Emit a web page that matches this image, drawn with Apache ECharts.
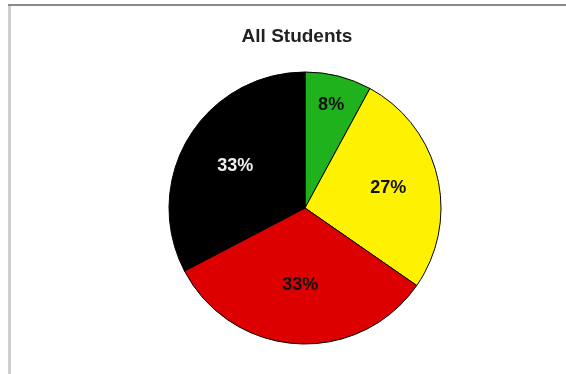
<!DOCTYPE html>
<html>
<head>
<meta charset="utf-8">
<style>
  html, body { margin: 0; padding: 0; background: #ffffff; }
  #chart { width: 566px; height: 374px; }
</style>
<script src="https://cdn.jsdelivr.net/npm/echarts@6/dist/echarts.min.js"></script>
</head>
<body>
<div id="chart"></div>
<script>
// Share of all students by group (percent)
const categories = ['Green', 'Yellow', 'Red', 'Black'];
const values = [8, 27, 33, 33];
const colors = ['#1fb21c', '#fff200', '#dc0000', '#000000'];
const labelColors = ['#111111', '#111111', '#111111', '#eeeeee'];

const pieCenter = [305, 208];
const pieRadius = 136;
// How far out each value label sits, as a fraction of the radius
const labelReach = [0.78, 0.63, 0.57, 0.6];

const slices = categories.map((name, i) => ({
  name: name,
  value: values[i],
  itemStyle: { color: colors[i] },
  label: { color: labelColors[i] }
}));

const chart = echarts.init(document.getElementById('chart'), null, { renderer: 'canvas' });
chart.setOption({
  animation: false,
  backgroundColor: '#ffffff',
  title: {
    text: 'All Students',
    left: 292,
    top: 22,
    textAlign: 'center',
    textStyle: {
      fontFamily: 'Liberation Sans, Arial, sans-serif',
      fontSize: 19,
      fontWeight: 'bold',
      color: '#222222'
    }
  },
  graphic: [
    { type: 'rect', shape: { x: 8, y: 4, width: 558, height: 2 }, style: { fill: '#8a8a8a' }, silent: true },
    { type: 'rect', shape: { x: 8, y: 6, width: 3, height: 368 }, style: { fill: '#cfcfcf' }, silent: true }
  ],
  series: [
    {
      type: 'pie',
      center: pieCenter,
      radius: pieRadius,
      startAngle: 90,
      clockwise: true,
      silent: true,
      label: {
        show: true,
        position: 'inner',
        formatter: '{c}%',
        fontFamily: 'Liberation Sans, Arial, sans-serif',
        fontSize: 18,
        fontWeight: 'bold'
      },
      labelLine: { show: false },
      // slide each label along its slice's mid-line
      labelLayout: function (p) {
        const r = p.labelRect;
        const cx = r.x + r.width / 2;
        const cy = r.y + r.height / 2;
        const vx = cx - pieCenter[0];
        const vy = cy - pieCenter[1];
        const len = Math.sqrt(vx * vx + vy * vy) || 1;
        const target = pieRadius * labelReach[p.dataIndex];
        return { dx: vx / len * target - vx, dy: vy / len * target - vy };
      },
      itemStyle: { borderColor: '#000000', borderWidth: 1 },
      data: slices
    }
  ]
});
</script>
</body>
</html>
